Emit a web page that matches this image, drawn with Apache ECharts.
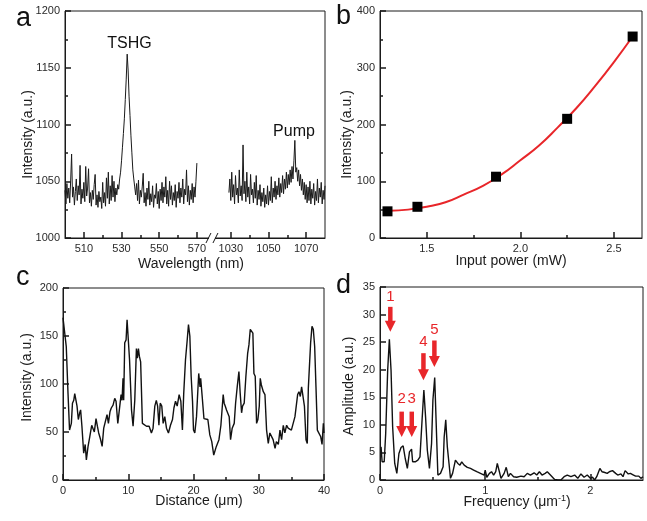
<!DOCTYPE html>
<html><head><meta charset="utf-8">
<script src="https://cdn.jsdelivr.net/npm/echarts@6/dist/echarts.min.js"></script>
<style>html,body{margin:0;padding:0;background:#fff}#c{width:647px;height:521px}</style>
</head><body><div id="c"></div>
<script>
// ---------- Panel a: spectrum (broken wavelength axis) ----------
const specLeftStart = 500, specRightStart = 1029, specStep = 0.5;
const specLeft = [
1042,1030,1048,1035,1044,1031,1050,1074,1036,1045,
1029,1041,1052,1033,1046,1038,1064,1030,1043,1035,
1049,1032,1063,1037,1044,1061,1031,1040,1028,1042,
1034,1047,1056,1029,1038,1027,1041,1032,1036,1026,
1049,1031,1040,1028,1053,1035,1058,1030,1046,1033,
1055,1036,1050,1032,1044,1038,1047,1043,1052,1058,
1068,1080,1092,1105,1122,1140,1162,1148,1125,1108,
1090,1075,1060,1052,1045,1038,1048,1033,1051,1030,
1042,1036,1045,1057,1031,1040,1028,1044,1034,1050,
1029,1039,1032,1046,1027,1038,1035,1048,1030,1041,
1026,1043,1033,1049,1031,1045,1036,1054,1030,1042,
1028,1050,1034,1046,1029,1040,1033,1047,1027,1041,
1035,1049,1031,1044,1036,1052,1030,1043,1038,1060,
1032,1046,1029,1042,1034,1048,1031,1045,1036,1050,
1066];
const specRight = [
1040,1052,1033,1058,1036,1047,1030,1055,1038,1044,
1031,1060,1037,1046,1033,1082,1039,1050,1032,1058,
1036,1045,1030,1056,1038,1043,1031,1049,1035,1055,
1029,1042,1034,1047,1028,1040,1032,1044,1027,1038,
1030,1046,1029,1041,1033,1054,1031,1044,1036,1050,
1034,1046,1038,1053,1036,1048,1040,1055,1039,1052,
1043,1058,1044,1056,1047,1060,1049,1063,1052,1068,
1086,1058,1062,1050,1060,1046,1056,1042,1052,1038,
1049,1034,1047,1031,1045,1033,1050,1030,1043,1035,
1048,1029,1041,1033,1052,1031,1044,1036,1049,1030,
1042,1034,1046];
const breakLeft = 578, breakRight = 1020;           // axis break (nm)
const specMajorTicks = [510,530,550,570,1030,1050,1070];
const specMinorTicks = [520,540,560,1040,1060];

// ---------- Panel b: power dependence ----------
const powerX = [1.29,1.45,1.87,2.25,2.6];
const powerY = [47,55,108,210,355];
const fitX = [1.3,1.4,1.5,1.6,1.7,1.8,1.9,2.0,2.1,2.2,2.3,2.4,2.5,2.6];
const fitY = [48,50,55,63,77,92,112,137,163,195,229,268,310,355];
const powerMajorTicks = [1.5,2.0,2.5];
const powerMinorTicks = [1.75,2.25];

// ---------- Panel c: intensity profile ----------
const dist = [0,0.25,0.5,0.77,1.0,1.28,1.45,1.65,1.8,2.05,
2.15,2.35,2.56,2.7,2.9,3.17,3.4,3.58,3.84,4.1,
4.4,4.6,4.8,5.06,5.27,5.47,5.73,6.0,6.24,6.5,
6.75,6.96,7.2,7.4,7.67,7.93,8.13,8.4,8.7,8.9,
9.05,9.2,9.3,9.46,9.67,9.82,10.0,10.2,10.5,10.74,
11.0,11.25,11.4,11.56,11.7,11.9,12.17,12.4,12.8,13.2,
13.55,13.8,14.07,14.3,14.5,14.7,14.9,15.14,15.35,15.6,
15.86,16.16,16.47,16.78,17.0,17.24,17.5,17.8,18.06,18.3,
18.5,18.77,19.0,19.23,19.44,19.64,19.85,20.0,20.2,20.46,
20.67,20.8,21.0,21.1,21.33,21.6,21.84,22.2,22.5,22.8,
23.1,23.5,23.9,24.2,24.4,24.55,24.7,24.86,25.06,25.27,
25.47,25.68,25.93,26.24,26.45,26.7,26.96,27.16,27.37,27.52,
27.77,28.03,28.3,28.5,28.7,28.9,29.1,29.26,29.46,29.67,
29.87,30.08,30.23,30.4,30.7,30.95,31.2,31.46,31.7,31.97,
32.2,32.5,32.7,33.0,33.25,33.5,33.76,34.0,34.27,34.5,
34.78,35.0,35.3,35.55,35.8,35.96,36.16,36.37,36.57,36.8,
37.0,37.24,37.44,37.6,37.8,37.95,38.16,38.36,38.57,38.77,
38.98,39.23,39.5,39.7,39.9,40.0];
const profile = [169,167,139,90,52,59,80,83,90,89,
77,63,70,73,56,28,37,21,35,45,
57,59,50,64,56,49,43,35,54,56,
68,59,71,75,78,85,82,59,59,89,
83,106,83,143,146,167,165,125,73,56,
83,137,127,137,129,123,59,61,56,56,
49,54,77,83,77,57,80,77,59,66,
54,49,57,63,75,82,77,89,82,52,
90,125,143,162,150,108,82,52,49,66,
68,111,97,106,87,64,63,63,47,40,
26,35,42,57,57,89,80,77,73,75,
66,42,54,59,80,97,113,90,70,77,
80,108,132,141,157,155,153,111,108,59,
63,77,106,99,92,89,52,38,49,50,
42,33,40,37,52,42,57,49,57,54,
56,52,50,66,68,89,92,87,97,97,
77,42,38,96,97,143,160,157,139,97,
52,50,45,37,59,49];

// ---------- Panel d: Fourier amplitude ----------
const freq = [0.01,0.02,0.04,0.054,0.073,0.089,0.105,0.12,0.14,0.16,
0.18,0.2,0.22,0.24,0.26,0.28,0.3,0.31,0.335,0.36,
0.38,0.4,0.417,0.433,0.45,0.47,0.49,0.503,0.52,0.535,
0.55,0.575,0.6,0.61,0.625,0.64,0.656,0.67,0.69,0.717,
0.74,0.76,0.777,0.8,0.83,0.86,0.89,0.92,0.955,0.99,
1.0,1.015,1.04,1.06,1.08,1.1,1.115,1.135,1.15,1.18,
1.2,1.22,1.24,1.27,1.3,1.34,1.37,1.4,1.43,1.465,
1.49,1.515,1.54,1.57,1.59,1.62,1.66,1.69,1.72,1.75,
1.78,1.815,1.85,1.88,1.91,1.94,1.97,2.0,2.02,2.04,
2.06,2.09,2.11,2.13,2.16,2.18,2.21,2.24,2.26,2.29,
2.31,2.33,2.36,2.38,2.41,2.43,2.46,2.48,2.5];
const amp = [6.0,3.3,3.3,8.4,19.9,25.5,19.9,9.7,3.0,1.2,
4.8,5.9,6.2,3.9,2.1,5.1,5.6,3.3,3.3,3.6,
4.2,10.9,16.3,11.5,5.4,2.1,6.6,14.5,18.6,9.7,
0.9,1.2,2.4,7.8,10.9,6.0,3.0,0.3,1.2,3.6,
3.0,2.7,3.3,2.7,2.3,2.1,1.8,1.5,1.2,0.9,
1.8,0.5,1.2,1.5,0.9,1.5,3.0,1.5,0.3,1.2,
2.3,0.6,1.2,0.6,0.5,0.7,0.6,1.2,0.9,1.3,
0.9,1.5,0.9,1.2,1.5,0.9,0.1,0,0,0.6,
0.9,0.6,0.9,0.3,1.1,0.5,0.9,0.3,0.5,0,
0.6,2.1,1.5,1.4,1.2,1.5,1.7,1.2,0.9,1.1,
0.6,1.7,1.1,1.2,0.9,0.7,0.7,0.3,0.6];
const freqMajorTicks = [0,1,2];
const freqMinorTicks = [0.5,1.5];
// arrows: frequency, tail amplitude, tip amplitude, label amplitude
const arrowLabels = ['1','2','3','4','5'];
const arrowFreq = [0.098,0.206,0.302,0.413,0.517];
const arrowTail = [31.4,12.4,12.4,23.0,25.3];
const arrowTip  = [26.9,7.8,7.8,18.1,20.5];
const arrowText = [33.2,14.7,14.7,25.0,27.2];

// ---------- build ----------
const FONT = 'Liberation Sans, Arial, sans-serif';
const AX = '#1a1a1a';
const RED = '#e8262a';
const toAxis = nm => nm > breakLeft ? nm - breakRight + breakLeft : nm;
const fromAxis = v => v > breakLeft ? v + breakRight - breakLeft : v;

const leftData = specLeft.map((v,i)=>[specLeftStart + i*specStep, v]);
const rightData = specRight.map((v,i)=>[toAxis(specRightStart + i*specStep), v]);

const gA = {left:65, top:11, width:260, height:227};
const gB = {left:380, top:11, width:262, height:227};
const gC = {left:63, top:288, width:261, height:192};
const gD = {left:380, top:287, width:263, height:193};
const frame = g => Object.assign({show:true, borderColor:AX, borderWidth:1, backgroundColor:'transparent'}, g);
const overlay = g => Object.assign({show:false}, g);

const labelStyle = {color:'#2a2a2a', fontSize:11, fontFamily:FONT};
const nameStyle = (pad) => ({color:'#1a1a1a', fontSize:14, fontFamily:FONT, padding:pad});
const majorTick = extra => Object.assign({show:true, inside:true, length:6, lineStyle:{color:AX, width:1.5}}, extra);

function xAxisBase(gi, extra) {
  return Object.assign({
    type:'value', gridIndex:gi, position:'bottom',
    axisLine:{show:true, onZero:false, lineStyle:{color:AX, width:1}},
    axisTick:majorTick({}),
    axisLabel:Object.assign({margin:5}, labelStyle),
    splitLine:{show:false},
    nameLocation:'middle', nameMoveOverlap:false
  }, extra);
}
function yAxisBase(gi, extra) {
  return Object.assign({
    type:'value', gridIndex:gi, position:'left',
    axisLine:{show:true, onZero:false, lineStyle:{color:AX, width:1}},
    axisTick:majorTick({}),
    minorTick:{show:false},
    axisLabel:Object.assign({margin:5, formatter:v=>String(v)}, labelStyle),
    splitLine:{show:false}, minorSplitLine:{show:false},
    nameLocation:'middle', nameRotate:90, nameMoveOverlap:false
  }, extra);
}
function minorX(gi, min, max, vals) {
  return {type:'value', gridIndex:gi, position:'bottom', min:min, max:max,
    axisLine:{show:false}, axisLabel:{show:false}, splitLine:{show:false},
    axisTick:{show:true, inside:true, length:3, customValues:vals, lineStyle:{color:AX, width:1.5}}};
}
function hiddenY(gi){ return {type:'value', gridIndex:gi, show:false, min:0, max:1}; }
const minor = {show:true, splitNumber:2, length:3, lineStyle:{color:AX, width:1.5}};

const option = {
  animation:false,
  backgroundColor:'#fff',
  grid:[frame(gA), frame(gB), frame(gC), frame(gD), overlay(gA), overlay(gB), overlay(gD)],
  xAxis:[
    xAxisBase(0, {min:500, max:toAxis(1080),
      axisTick:majorTick({customValues:specMajorTicks.map(toAxis)}),
      axisLabel:Object.assign({margin:5, customValues:specMajorTicks.map(toAxis), formatter:v=>String(Math.round(fromAxis(v)))}, labelStyle),
      name:'Wavelength (nm)', nameGap:19, nameTextStyle:nameStyle([0,8,0,0])}),
    xAxisBase(1, {min:1.25, max:2.65,
      axisTick:majorTick({customValues:powerMajorTicks}),
      axisLabel:Object.assign({margin:5, customValues:powerMajorTicks, formatter:v=>v.toFixed(1)}, labelStyle),
      name:'Input power (mW)', nameGap:16, nameTextStyle:nameStyle([0,0,0,0])}),
    xAxisBase(2, {min:0, max:40, interval:10, minorTick:minor,
      name:'Distance (μm)', nameGap:14, nameTextStyle:nameStyle([0,0,0,11])}),
    xAxisBase(3, {min:0, max:2.5,
      axisTick:majorTick({customValues:freqMajorTicks}),
      axisLabel:Object.assign({margin:5, customValues:freqMajorTicks}, labelStyle),
      name:'Frequency (μm{sup|-1})', nameGap:14,
      nameTextStyle:Object.assign(nameStyle([0,0,0,11]), {rich:{sup:{fontSize:9, fontFamily:FONT, color:'#1a1a1a', verticalAlign:'top', padding:[0,0,7,0]}}})}),
    minorX(4, 500, toAxis(1080), specMinorTicks.map(toAxis)),
    minorX(5, 1.25, 2.65, powerMinorTicks),
    minorX(6, 0, 2.5, freqMinorTicks)
  ],
  yAxis:[
    yAxisBase(0, {min:1000, max:1200, interval:50, minorTick:minor,
      name:'Intensity (a.u.)', nameGap:30, nameTextStyle:nameStyle([0,20,0,0])}),
    yAxisBase(1, {min:0, max:400, interval:100, minorTick:minor,
      name:'Intensity (a.u.)', nameGap:26, nameTextStyle:nameStyle([0,20,0,0])}),
    yAxisBase(2, {min:0, max:200, interval:50, minorTick:minor,
      name:'Intensity (a.u.)', nameGap:29, nameTextStyle:nameStyle([0,0,0,13])}),
    yAxisBase(3, {min:0, max:35, interval:5,
      name:'Amplitude (a.u.)', nameGap:24, nameTextStyle:nameStyle([0,5,0,0])}),
    hiddenY(4), hiddenY(5), hiddenY(6)
  ],
  series:[
    {type:'line', xAxisIndex:0, yAxisIndex:0, data:leftData, showSymbol:false,
      lineStyle:{color:'#1a1a1a', width:1}},
    {type:'line', xAxisIndex:0, yAxisIndex:0, data:rightData, showSymbol:false,
      lineStyle:{color:'#1a1a1a', width:1}},
    {type:'line', xAxisIndex:1, yAxisIndex:1, data:fitX.map((x,i)=>[x,fitY[i]]), showSymbol:false,
      smooth:true, lineStyle:{color:RED, width:2}, z:2},
    {type:'scatter', xAxisIndex:1, yAxisIndex:1, data:powerX.map((x,i)=>[x,powerY[i]]),
      symbol:'rect', symbolSize:10, itemStyle:{color:'#000', opacity:1}, z:3},
    {type:'line', xAxisIndex:2, yAxisIndex:2, data:dist.map((x,i)=>[x,profile[i]]), showSymbol:false,
      lineStyle:{color:'#111', width:1.4}},
    {type:'line', xAxisIndex:3, yAxisIndex:3, data:freq.map((x,i)=>[x,amp[i]]), showSymbol:false,
      lineStyle:{color:'#111', width:1.4}},
    {type:'custom', xAxisIndex:3, yAxisIndex:3, z:5,
      data:arrowFreq.map((f,i)=>[f, arrowTail[i], arrowTip[i], arrowText[i]]),
      renderItem:function(params, api){
        const f = api.value(0);
        const pTail = api.coord([f, api.value(1)]);
        const pTip = api.coord([f, api.value(2)]);
        const pLab = api.coord([f, api.value(3)]);
        const headH = 11, headW = 11, shaftW = 4.5;
        const cx = pTail[0];
        return {type:'group', children:[
          {type:'rect', shape:{x:cx-shaftW/2, y:pTail[1], width:shaftW, height:pTip[1]-headH-pTail[1]+1}, style:{fill:RED}},
          {type:'polygon', shape:{points:[[cx-headW/2,pTip[1]-headH],[cx+headW/2,pTip[1]-headH],[cx,pTip[1]]]}, style:{fill:RED}},
          {type:'text', style:{text:arrowLabels[params.dataIndex], x:cx, y:pLab[1], align:'center', verticalAlign:'middle',
            fill:RED, fontSize:15, fontFamily:FONT}}
        ]};
      }}
  ]
};

const chart = echarts.init(document.getElementById('c'), null, {renderer:'canvas'});
chart.setOption(option);

// annotations
const bp = chart.convertToPixel({gridIndex:0}, [breakLeft, 1000]);
const letter = (t, x, y) => ({type:'text', left:x, top:y, style:{text:t, fontSize:27, fontFamily:FONT, fill:'#111'}});
chart.setOption({graphic:[
  letter('a', 16, 5), letter('b', 336, 3), letter('c', 16, 264), letter('d', 336, 272),
  {type:'text', x:129.5, y:43.5, style:{text:'TSHG', fontSize:16, fontFamily:FONT, fill:'#111', align:'center', verticalAlign:'middle'}},
  {type:'text', x:294, y:131.5, style:{text:'Pump', fontSize:16, fontFamily:FONT, fill:'#111', align:'center', verticalAlign:'middle'}},
  {type:'rect', shape:{x:bp[0]-3, y:bp[1]-2, width:6, height:4}, style:{fill:'#fff'}, z:100},
  {type:'line', shape:{x1:bp[0]-6, y1:bp[1]+5, x2:bp[0]-1, y2:bp[1]-5}, style:{stroke:AX, lineWidth:1}, z:101},
  {type:'line', shape:{x1:bp[0]+1, y1:bp[1]+5, x2:bp[0]+6, y2:bp[1]-5}, style:{stroke:AX, lineWidth:1}, z:101}
]});
</script>
</body></html>
